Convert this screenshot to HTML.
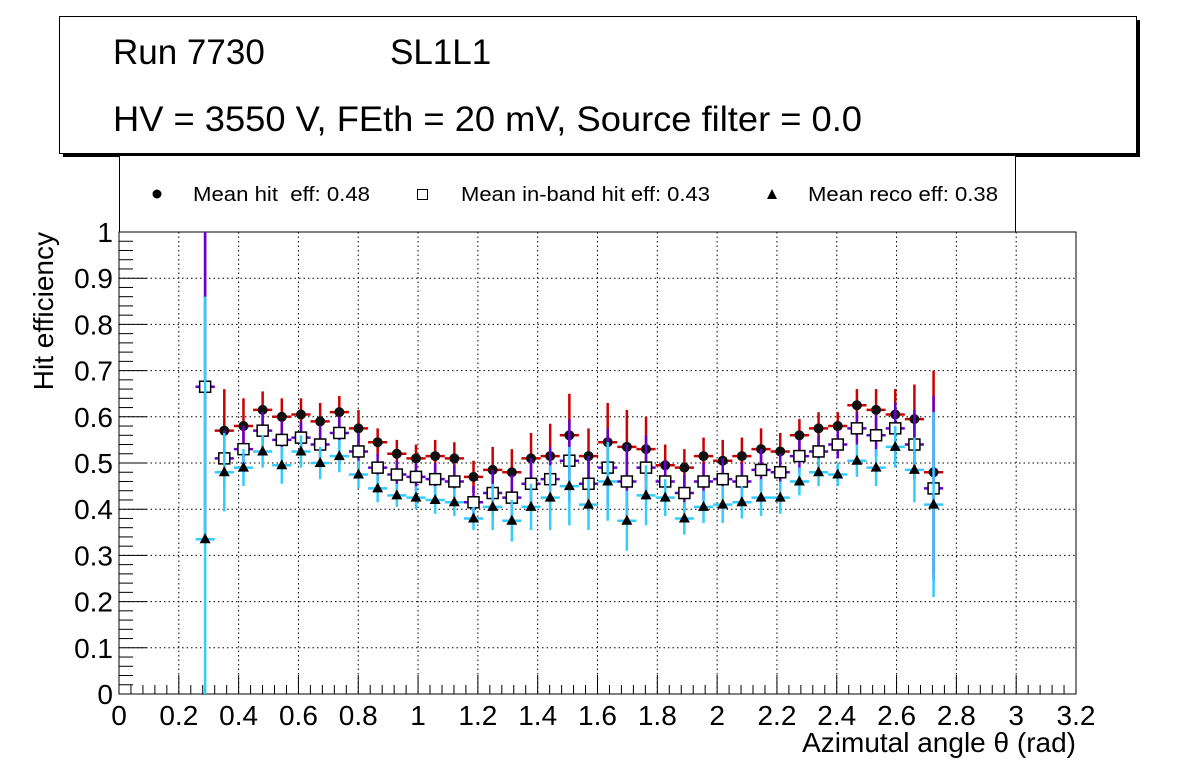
<!DOCTYPE html>
<html><head><meta charset="utf-8"><style>
body{margin:0;background:#fff;width:1196px;height:772px;overflow:hidden}
svg{font-family:"Liberation Sans",sans-serif}
</style></head><body>
<svg id="c" width="1196" height="772"></svg>
<script>
const hitVals=[0.665,0.57,0.58,0.615,0.6,0.605,0.59,0.61,0.575,0.545,0.52,0.51,0.515,0.51,0.47,0.485,0.48,0.51,0.515,0.56,0.515,0.545,0.535,0.53,0.495,0.49,0.515,0.505,0.515,0.53,0.525,0.56,0.575,0.58,0.625,0.615,0.605,0.595,0.48];
const hitErr=[0.335,0.09,0.06,0.04,0.04,0.035,0.04,0.035,0.04,0.03,0.03,0.03,0.035,0.035,0.035,0.05,0.05,0.055,0.07,0.09,0.06,0.085,0.08,0.07,0.045,0.04,0.04,0.045,0.04,0.045,0.04,0.035,0.035,0.03,0.035,0.045,0.055,0.075,0.22];
const bandVals=[0.665,0.51,0.53,0.57,0.55,0.555,0.54,0.565,0.525,0.49,0.475,0.47,0.465,0.46,0.415,0.435,0.425,0.455,0.465,0.505,0.455,0.49,0.46,0.49,0.46,0.435,0.46,0.465,0.46,0.485,0.48,0.515,0.525,0.54,0.575,0.56,0.575,0.54,0.445];
const bandErr=[0.335,0.06,0.05,0.04,0.04,0.035,0.04,0.035,0.04,0.03,0.03,0.03,0.035,0.035,0.035,0.05,0.05,0.055,0.07,0.09,0.06,0.085,0.08,0.07,0.045,0.04,0.04,0.045,0.04,0.045,0.04,0.035,0.035,0.03,0.035,0.045,0.055,0.075,0.2];
const recoVals=[0.335,0.48,0.49,0.525,0.495,0.525,0.5,0.515,0.475,0.445,0.43,0.425,0.42,0.415,0.38,0.405,0.375,0.405,0.425,0.45,0.41,0.46,0.375,0.43,0.425,0.38,0.405,0.41,0.415,0.425,0.425,0.46,0.48,0.475,0.505,0.49,0.535,0.485,0.41];
const recoErr=[0.525,0.085,0.04,0.035,0.04,0.035,0.035,0.035,0.03,0.03,0.025,0.025,0.03,0.03,0.025,0.05,0.045,0.05,0.07,0.085,0.055,0.085,0.065,0.065,0.04,0.035,0.035,0.04,0.035,0.04,0.035,0.03,0.03,0.025,0.035,0.04,0.045,0.07,0.2];
const xStart=0.288, xStep=0.0641;
const xTicks=[0,0.2,0.4,0.6,0.8,1,1.2,1.4,1.6,1.8,2,2.2,2.4,2.6,2.8,3,3.2];
const yTicks=[0,0.1,0.2,0.3,0.4,0.5,0.6,0.7,0.8,0.9,1];
const X0=119,X1=1076,Y0=694,Y1=232;
const sx=v=>X0+(v/3.2)*(X1-X0), sy=v=>Y0-v*(Y0-Y1);
const svg=document.getElementById('c');const NS='http://www.w3.org/2000/svg';
function el(t,a,p){const e=document.createElementNS(NS,t);for(const k in a)e.setAttribute(k,a[k]);(p||svg).appendChild(e);return e;}
function txt(s,a,p){const e=el('text',a,p);e.textContent=s;return e;}
// title box
let g=el('g',{});

el('rect',{x:63,y:20,width:1077,height:137,fill:'#000'},g);
el('rect',{x:59.5,y:16.5,width:1077,height:137,fill:'#fff',stroke:'#000'},g);
txt('Run 7730',{x:113,y:64,'font-size':35},g);
txt('SL1L1',{x:390,y:64,'font-size':35},g);
txt('HV = 3550 V, FEth = 20 mV, Source filter = 0.0',{x:113,y:131,'font-size':35,textLength:749,lengthAdjust:'spacingAndGlyphs'},g);
// legend
let lg=el('g',{});

el('rect',{x:119.5,y:155.5,width:896,height:77,fill:'#fff',stroke:'#000'},lg);
el('circle',{cx:157,cy:194,r:4.5,fill:'#000'},lg);
txt('Mean hit  eff: 0.48',{x:193,y:201,'font-size':20,textLength:177,lengthAdjust:'spacingAndGlyphs','xml:space':'preserve'},lg).setAttribute('style','white-space:pre');
el('rect',{x:417.5,y:189.5,width:10,height:10,fill:'#fff',stroke:'#000'},lg);
txt('Mean in-band hit eff: 0.43',{x:461,y:201,'font-size':20,textLength:249,lengthAdjust:'spacingAndGlyphs'},lg);
el('polygon',{points:'772,189 767,199 777,199',fill:'#000'},lg);
txt('Mean reco eff: 0.38',{x:808,y:201,'font-size':20,textLength:190,lengthAdjust:'spacingAndGlyphs'},lg);
// frame & grid
el('rect',{x:X0,y:Y1,width:X1-X0,height:Y0-Y1,fill:'#fff',stroke:'#000'});
xTicks.forEach((t,i)=>{const x=sx(t);
 if(i>0&&i<xTicks.length-1) el('line',{x1:x,x2:x,y1:Y1,y2:Y0,stroke:'#000','stroke-dasharray':'1.5,3'});
 el('line',{x1:x,x2:x,y1:Y0,y2:Y0-19,stroke:'#000'});
 if(i<xTicks.length-1) for(let k=1;k<5;k++){const xm=sx(t+k*0.04);el('line',{x1:xm,x2:xm,y1:Y0,y2:Y0-9,stroke:'#000'});}
 const l=txt(String(t),{x:x,y:Y0+31,'font-size':28,'text-anchor':'middle'});
 });
yTicks.forEach((t,i)=>{const y=sy(t);
 if(i>0&&i<yTicks.length-1) el('line',{x1:X0,x2:X1,y1:y,y2:y,stroke:'#000','stroke-dasharray':'1.5,3'});
 el('line',{x1:X0,x2:X0+28,y1:y,y2:y,stroke:'#000'});
 if(i<yTicks.length-1) for(let k=1;k<5;k++){const ym=sy(t+k*0.02);el('line',{x1:X0,x2:X0+14,y1:ym,y2:ym,stroke:'#000'});}
 const l=txt(String(t),{x:X0-6,y:y+10,'font-size':28,'text-anchor':'end'});
 });
let xt=txt('Azimutal angle θ (rad)',{x:X1,y:752,'font-size':28,'text-anchor':'end'});

let yt=txt('Hit efficiency',{x:0,y:0,'font-size':28,'text-anchor':'end',transform:'translate(53,232) rotate(-90)'});

// series
const clip=v=>Math.max(0,Math.min(1,v));
const hw=(sx(xStep)-sx(0))/2;
function series(vals,errs,color,marker,name){
 const sg=el('g',{});
 
 vals.forEach((v,i)=>{const x=sx(xStart+i*xStep),y=sy(v);
  el('line',{x1:x,x2:x,y1:sy(clip(v+errs[i])),y2:sy(clip(v-errs[i])),stroke:color,'stroke-width':2.5},sg);
  el('line',{x1:x-hw,x2:x+hw,y1:y,y2:y,stroke:color,'stroke-width':2.5},sg);
 });
 vals.forEach((v,i)=>{const x=sx(xStart+i*xStep),y=sy(v);let m;
  if(marker==='c') m=el('circle',{cx:x,cy:y,r:5,fill:'#111'},sg);
  else if(marker==='s') m=el('rect',{x:x-5.5,y:y-5.5,width:11,height:11,fill:'#fff',stroke:'#000','stroke-width':1.5},sg);
  else m=el('polygon',{points:`${x},${y-6} ${x-5.5},${y+4} ${x+5.5},${y+4}`,fill:'#000'},sg);
  
  
 });
}
series(hitVals,hitErr,'#cc0000','c','hit-eff-series');
series(bandVals,bandErr,'#6600cc','s','inband-eff-series');
series(recoVals,recoErr,'#33ccff','t','reco-eff-series');
</script>
</body></html>
